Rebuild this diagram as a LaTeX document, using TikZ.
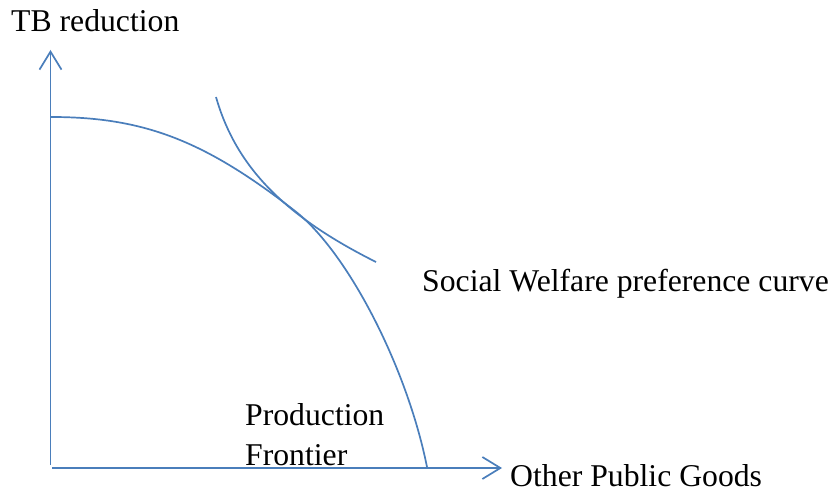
\documentclass[tikz,border=0pt]{standalone}
\usepackage{fontspec}
\setmainfont{Liberation Serif}
\usetikzlibrary{arrows.meta}
\definecolor{lineblue}{RGB}{74,126,187}
\tikzset{
  curveline/.style={draw=lineblue, line width=1.7pt},
  axisline/.style={draw=lineblue, line width=1.7pt, -{Straight Barb[length=18pt,width=22pt]}},
  lbl/.style={anchor=base west, inner sep=0pt, font=\fontsize{31.7}{36}\selectfont}
}
\begin{document}
\begin{tikzpicture}[x=1pt,y=1pt]
\useasboundingbox (0,0) rectangle (840,498);
% axes
\coordinate (vbot) at (50.5,33);
\coordinate (vtop) at (50.5,448);
\coordinate (hleft) at (52,30);
\coordinate (hright) at (502,30);
\draw[axisline] (vbot) -- (vtop);
\draw[axisline] (hleft) -- (hright);
% production frontier
\coordinate (pfa) at (51,381);
\coordinate (pft) at (295,287);
\coordinate (pfb) at (427,31);
\draw[curveline] (pfa) .. controls (143.6,381) and (204.6,357.5) .. (pft)
                       .. controls (347.6,246) and (407,130.8) .. (pfb);
% social welfare preference curve
\coordinate (swa) at (216,401);
\coordinate (swb) at (376,236);
\draw[curveline] (swa) .. controls (235.8,331.6) and (283.8,282.1) .. (swb);
% labels
\node[lbl] (ylab) at (11,466) {TB reduction};
\node[lbl] (swlab) at (422,206) {Social Welfare preference curve};
\node[lbl] (prod) at (245,73) {Production};
\node[lbl] (front) at (245,33) {Frontier};
\node[lbl] (xlab) at (510,12) {Other Public Goods};
\end{tikzpicture}
\end{document}
